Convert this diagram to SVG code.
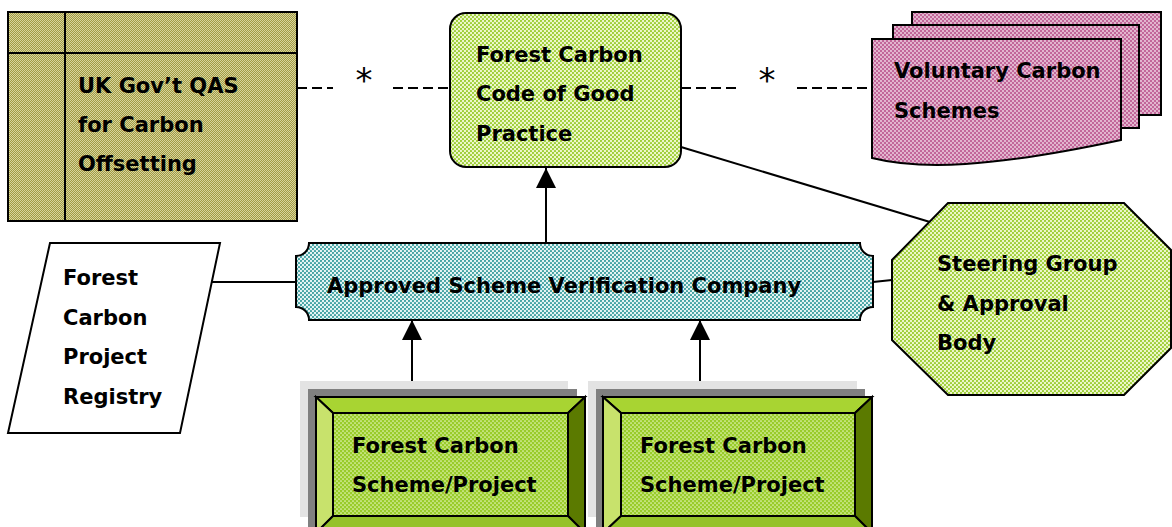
<svg xmlns="http://www.w3.org/2000/svg" width="1172" height="527" viewBox="0 0 1172 527">
  <defs>
    <pattern id="pOlive" width="2" height="2" patternUnits="userSpaceOnUse">
      <rect width="2" height="2" fill="#A19B44"/>
      <rect width="1" height="1" fill="#D8D49C"/>
      <rect x="1" y="1" width="1" height="1" fill="#D8D49C"/>
    </pattern>
    <pattern id="pLime" width="4" height="4" patternUnits="userSpaceOnUse">
      <rect width="4" height="4" fill="#EEF7CC"/>
      <circle cx="1" cy="1" r="1.1" fill="#99CC2E"/>
      <circle cx="3" cy="3" r="1.1" fill="#99CC2E"/>
    </pattern>
    <pattern id="pPink" width="4" height="4" patternUnits="userSpaceOnUse">
      <rect width="4" height="4" fill="#C2679A"/>
      <circle cx="1" cy="1" r="0.9" fill="#F2DCE8"/>
      <circle cx="3" cy="3" r="0.9" fill="#F2DCE8"/>
    </pattern>
    <pattern id="pTeal" width="4" height="4" patternUnits="userSpaceOnUse">
      <rect width="4" height="4" fill="#E6F4F4"/>
      <circle cx="1" cy="1" r="1.1" fill="#3A9E9E"/>
      <circle cx="3" cy="3" r="1.1" fill="#3A9E9E"/>
    </pattern>
    <pattern id="pGreen" width="4" height="4" patternUnits="userSpaceOnUse">
      <rect width="4" height="4" fill="#99CC2A"/>
      <circle cx="1" cy="1" r="0.85" fill="#E6F5BC"/>
      <circle cx="3" cy="3" r="0.85" fill="#E6F5BC"/>
    </pattern>
    <marker id="arrow" viewBox="0 0 20 20" refX="20" refY="10" markerWidth="20" markerHeight="20" markerUnits="userSpaceOnUse" orient="auto">
      <path d="M0,0 L20,10 L0,20 Z" fill="#000"/>
    </marker>
    <style>
      .lbl { font-family: "DejaVu Sans", Verdana, sans-serif; font-weight: bold; font-size: 21px; fill: #000; }
      .star { font-family: "DejaVu Sans", sans-serif; font-size: 34px; fill: #000; }
      .edge { stroke: #000; stroke-width: 2; fill: none; }
      .dash { stroke: #000; stroke-width: 2; fill: none; stroke-dasharray: 10 5; }
      .out { stroke: #000; stroke-width: 2; }
      .bevTop { fill: #A8D432; }
      .bevLeft { fill: #C8E26C; }
      .bevRight { fill: #5B7A00; }
      .bevBottom { fill: #95C22A; }
    </style>
  </defs>

  <!-- connectors -->
  <g id="connectors">
    <line class="dash" x1="297" y1="88" x2="333" y2="88"/>
    <line class="dash" x1="393" y1="88" x2="450" y2="88"/>
    <text class="star" x="364" y="92" text-anchor="middle">*</text>
    <line class="dash" x1="681" y1="88" x2="737" y2="88"/>
    <line class="dash" x1="797" y1="88" x2="872" y2="88"/>
    <text class="star" x="767" y="92" text-anchor="middle">*</text>
    <line class="edge" x1="681" y1="147" x2="930" y2="222"/>
    <line class="edge" x1="873" y1="282" x2="892" y2="280"/>
    <line class="edge" x1="212" y1="282" x2="296" y2="282"/>
    <line class="edge" x1="546" y1="243" x2="546" y2="168" marker-end="url(#arrow)"/>
    <line class="edge" x1="412" y1="397" x2="412" y2="320" marker-end="url(#arrow)"/>
    <line class="edge" x1="700" y1="397" x2="700" y2="320" marker-end="url(#arrow)"/>
  </g>

  <!-- UK Gov't quality assurance scheme -->
  <g id="uk-qas">
    <rect x="8" y="12" width="289" height="209" fill="url(#pOlive)" class="out"/>
    <line class="edge" x1="65" y1="12" x2="65" y2="221"/>
    <line class="edge" x1="8" y1="53" x2="297" y2="53"/>
    <text class="lbl" x="78" y="93">UK Gov’t QAS</text>
    <text class="lbl" x="78" y="132">for Carbon</text>
    <text class="lbl" x="78" y="171">Offsetting</text>
  </g>

  <!-- Code of good practice -->
  <g id="code">
    <rect x="450" y="13" width="231" height="154" rx="16" ry="16" fill="url(#pLime)" class="out"/>
    <text class="lbl" x="476" y="62">Forest Carbon</text>
    <text class="lbl" x="476" y="101">Code of Good</text>
    <text class="lbl" x="476" y="141">Practice</text>
  </g>

  <!-- Voluntary schemes (stacked documents) -->
  <g id="voluntary">
    <rect x="912" y="12" width="249" height="103" fill="url(#pPink)" class="out"/>
    <rect x="893" y="25" width="246" height="103" fill="url(#pPink)" class="out"/>
    <path d="M872,39 H1121 V140 C990,168 920,170 872,158 Z" fill="url(#pPink)" class="out"/>
    <text class="lbl" x="894" y="78">Voluntary Carbon</text>
    <text class="lbl" x="894" y="118">Schemes</text>
  </g>

  <!-- Verification company -->
  <g id="verifier">
    <path d="M309,243 H860 A13,13 0 0 0 873,256 V307 A13,13 0 0 0 860,320 H309 A13,13 0 0 0 296,307 V256 A13,13 0 0 0 309,243 Z" fill="url(#pTeal)" class="out"/>
    <text class="lbl" x="327" y="293">Approved Scheme Verification Company</text>
  </g>

  <!-- Project registry -->
  <g id="registry">
    <path d="M50,243 H220 L180,433 H8 Z" fill="#FFF" class="out"/>
    <text class="lbl" x="63" y="285">Forest</text>
    <text class="lbl" x="63" y="325">Carbon</text>
    <text class="lbl" x="63" y="364">Project</text>
    <text class="lbl" x="63" y="404">Registry</text>
  </g>

  <!-- Steering group -->
  <g id="steering">
    <path d="M948,203 H1124 L1171,250 V348 L1124,395 H948 L892,340 V260 Z" fill="url(#pLime)" class="out"/>
    <text class="lbl" x="937" y="271">Steering Group</text>
    <text class="lbl" x="937" y="311">&amp; Approval</text>
    <text class="lbl" x="937" y="350">Body</text>
  </g>

  <!-- Scheme / project 1 -->
  <g id="project-1">
    <rect x="300" y="381" width="268" height="136" fill="#E3E3E3"/>
    <rect x="308" y="389" width="269" height="150" fill="#808080"/>
    <polygon class="bevTop out" points="316,397 585,397 568,413 333,413"/>
    <polygon class="bevLeft out" points="316,397 333,413 333,516 316,533"/>
    <polygon class="bevRight out" points="585,397 585,533 568,516 568,413"/>
    <polygon class="bevBottom out" points="316,533 585,533 568,516 333,516"/>
    <rect x="333" y="413" width="235" height="103" fill="url(#pGreen)" class="out"/>
    <text class="lbl" x="352" y="453">Forest Carbon</text>
    <text class="lbl" x="352" y="492">Scheme/Project</text>
  </g>

  <!-- Scheme / project 2 -->
  <g id="project-2">
    <rect x="588" y="381" width="269" height="136" fill="#E3E3E3"/>
    <rect x="596" y="389" width="269" height="150" fill="#808080"/>
    <polygon class="bevTop out" points="603,397 872,397 855,413 621,413"/>
    <polygon class="bevLeft out" points="603,397 621,413 621,516 603,533"/>
    <polygon class="bevRight out" points="872,397 872,533 855,516 855,413"/>
    <polygon class="bevBottom out" points="603,533 872,533 855,516 621,516"/>
    <rect x="621" y="413" width="234" height="103" fill="url(#pGreen)" class="out"/>
    <text class="lbl" x="640" y="453">Forest Carbon</text>
    <text class="lbl" x="640" y="492">Scheme/Project</text>
  </g>
</svg>
